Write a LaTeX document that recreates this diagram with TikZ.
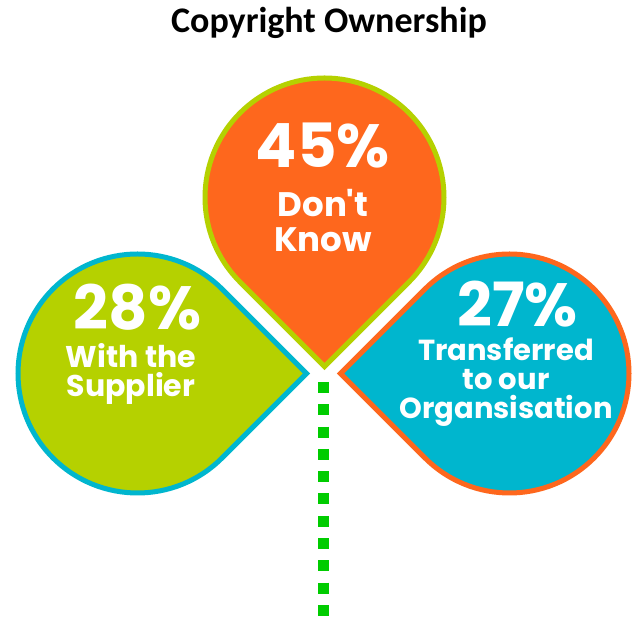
\documentclass[tikz,border=0pt]{standalone}
\usepackage{fontspec}
\usetikzlibrary{calc}
\newfontfamily\popf{Poppins}[Ligatures=TeXOff]
\newfontfamily\carlf{Carlito}
\definecolor{dorange}{HTML}{FE671D}
\definecolor{dlime}{HTML}{B5D100}
\definecolor{dcyan}{HTML}{00B6CE}
\definecolor{dstem}{HTML}{00CC00}
\tikzset{
  drop/.style={line width=5pt, line join=miter},
  bignum/.style={text=white, anchor=base, inner sep=0pt, text depth=0pt, font=\popf\bfseries\fontsize{61}{61}\selectfont},
  lbl/.style={text=white, anchor=base, inner sep=0pt, text depth=0pt},
}
\begin{document}
\begin{tikzpicture}[x=1pt,y=1pt]
\useasboundingbox (0,0) rectangle (632,617);
\fill[white] (0,0) rectangle (632,617);
% title
\node[anchor=base, inner sep=0pt, font=\carlf\bfseries\fontsize{36}{36}\selectfont] (title) at (329,584) {Copyright Ownership};
% centres
\coordinate (ctop) at (324.5,419.5);
\coordinate (cleft) at (137.5,243.5);
\coordinate (cright) at (509.5,243.5);
% stem
\coordinate (stemtop) at (323.5,235);
\coordinate (stembot) at (323.5,0);
\draw[dstem, line width=11pt, dash pattern=on 11pt off 11.3pt] (stemtop) -- (stembot);
% drops
\draw[drop, fill=dorange, draw=dlime] ($(ctop)+(-90:169)$) -- ($(ctop)+(-45:119.5)$) arc[start angle=-45, end angle=225, radius=119.5] -- cycle;
\draw[drop, fill=dlime, draw=dcyan] ($(cleft)+(0:169)$) -- ($(cleft)+(45:119.5)$) arc[start angle=45, end angle=315, radius=119.5] -- cycle;
\draw[drop, fill=dcyan, draw=dorange] ($(cright)+(180:169)$) -- ($(cright)+(225:119.5)$) arc[start angle=225, end angle=495, radius=119.5] -- cycle;
% texts top
\node[bignum] (n45) at (323,449) {45\%};
\node[lbl, font=\popf\bfseries\fontsize{34}{34}\selectfont] (dk1) at (323,400) {Don't};
\node[lbl, font=\popf\bfseries\fontsize{34}{34}\selectfont] (dk2) at (323,365) {Know};
% left
\node[bignum] (n28) at (137.5,287) {28\%};
\node[lbl, font=\popf\bfseries\fontsize{30}{30}\selectfont] (ws1) at (131,249) {With the};
\node[lbl, font=\popf\bfseries\fontsize{30}{30}\selectfont] (ws2) at (131,220) {Supplier};
% right
\node[bignum] (n27) at (517.5,290) {27\%};
\node[lbl, font=\popf\bfseries\fontsize{29}{29}\selectfont] (tr1) at (506,256) {Transferred};
\node[lbl, font=\popf\bfseries\fontsize{29}{29}\selectfont] (tr2) at (506,227) {to our};
\node[lbl, font=\popf\bfseries\fontsize{29}{29}\selectfont] (tr3) at (506,198) {Organsisation};
\end{tikzpicture}
\end{document}
